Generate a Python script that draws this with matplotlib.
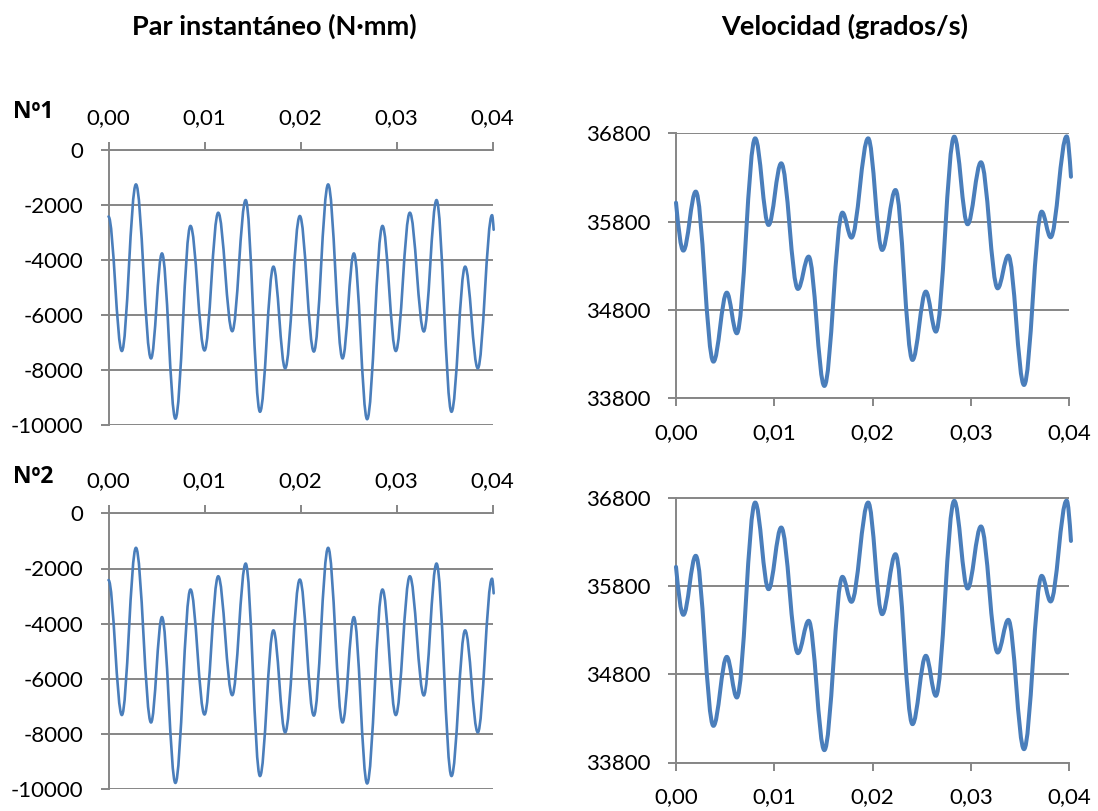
import matplotlib
matplotlib.use("Agg")
import matplotlib.pyplot as plt
from matplotlib.path import Path
from matplotlib.patches import PathPatch
from matplotlib.ticker import FixedLocator, FuncFormatter

plt.rcParams['font.family'] = ['Lato', 'DejaVu Sans']
plt.rcParams['axes.unicode_minus'] = False

# ---------------- data ----------------
titles = ["Par instantáneo (N·mm)", "Velocidad (grados/s)"]
row_labels = ["Nº1", "Nº2"]

time_ticks = [0.00, 0.01, 0.02, 0.03, 0.04]
torque_ticks = [0, -2000, -4000, -6000, -8000, -10000]
speed_ticks = [33800, 34800, 35800, 36800]

# torque: successive extrema (s, N·mm); last point is where the trace ends
torque_t = [0.0000, 0.00139, 0.00286, 0.00443, 0.00557, 0.00697, 0.00854,
            0.01000, 0.01143, 0.01289, 0.01429, 0.01578, 0.01718, 0.01840,
            0.01993, 0.02139, 0.02288, 0.02438, 0.02556, 0.02694, 0.02854,
            0.02993, 0.03139, 0.03285, 0.03417, 0.03573, 0.03715, 0.03847,
            0.03995, 0.04012]
torque_v = [-2420, -7310, -1250, -7580, -3760, -9770, -2760,
            -7290, -2280, -6590, -1820, -9520, -4240, -7940,
            -2400, -7330, -1250, -7580, -3760, -9790, -2760,
            -7310, -2280, -6600, -1820, -9520, -4240, -7940,
            -2370, -2900]

# speed: first/last points are where the trace starts/ends, others extrema
speed_t = [0.0000, 0.00075, 0.00201, 0.00381, 0.00517, 0.00619, 0.00806,
           0.00942, 0.01071, 0.01241, 0.01350, 0.01510, 0.01694, 0.01786,
           0.01956, 0.02098, 0.02234, 0.02407, 0.02543, 0.02645, 0.02832,
           0.02968, 0.03104, 0.03274, 0.03382, 0.03542, 0.03722, 0.03813,
           0.03976, 0.04020]
speed_v = [36015, 35472, 36140, 34215, 34996, 34536, 36743,
           35762, 36460, 35038, 35404, 33940, 35902, 35619,
           36743, 35479, 36158, 34234, 35008, 34555, 36762,
           35770, 36472, 35045, 35415, 33951, 35913, 35623,
           36765, 36308]

# ---------------- styling ----------------
LINE = "#4A7EBB"
GRID = "#868686"
K = 0.364


def smooth_path(t, v, steep_start, steep_end):
    verts = [(t[0], v[0])]
    codes = [Path.MOVETO]
    n = len(t)
    for i in range(n - 1):
        t0, v0, t1, v1 = t[i], v[i], t[i + 1], v[i + 1]
        dt = t1 - t0
        if i == 0 and steep_start:
            c1 = (t0 + dt / 3, v0 + (v1 - v0) * 0.52)
        else:
            c1 = (t0 + K * dt, v0)
        if i == n - 2 and steep_end:
            c2 = (t1 - dt / 3, v1 - (v1 - v0) * 0.52)
        else:
            c2 = (t1 - K * dt, v1)
        verts += [c1, c2, (t1, v1)]
        codes += [Path.CURVE4] * 3
    return Path(verts, codes)


def fmt_time(x, pos):
    return f"{x:.2f}".replace(".", ",")


def fmt_int(x, pos):
    return f"{int(round(x))}"


W, H = 1098, 811
fig = plt.figure(figsize=(W / 100, H / 100), dpi=100)


def box(left, top, right, bottom):
    return [left / W, 1 - bottom / H, (right - left) / W, (bottom - top) / H]


TICK_FS = 16


def style_common(ax):
    ax.xaxis.set_major_locator(FixedLocator(time_ticks))
    ax.xaxis.set_major_formatter(FuncFormatter(fmt_time))
    ax.yaxis.set_major_formatter(FuncFormatter(fmt_int))
    ax.tick_params(axis="y", direction="out", length=6, width=1.4, color=GRID,
                   labelsize=TICK_FS, pad=12)
    ax.yaxis.grid(True, color=GRID, linewidth=1.4)
    ax.set_axisbelow(True)


def torque_axes(rect):
    ax = fig.add_axes(rect)
    ax.set_xlim(0, 0.04)
    ax.set_ylim(-10000, 0)
    for s in ["bottom", "right"]:
        ax.spines[s].set_visible(False)
    for s in ["top", "left"]:
        ax.spines[s].set_color(GRID)
        ax.spines[s].set_linewidth(1.4)
    ax.xaxis.tick_top()
    style_common(ax)
    ax.yaxis.set_major_locator(FixedLocator(torque_ticks))
    ax.tick_params(axis="x", direction="out", length=6, width=1.4, color=GRID,
                   labelsize=TICK_FS, pad=10)
    p = PathPatch(smooth_path(torque_t, torque_v, False, True), facecolor="none",
                  edgecolor=LINE, linewidth=1.9, capstyle="round",
                  joinstyle="round", clip_on=False, zorder=3)
    ax.add_patch(p)
    return ax


def speed_axes(rect):
    ax = fig.add_axes(rect)
    ax.set_xlim(0, 0.04)
    ax.set_ylim(33800, 36800)
    for s in ["top", "right"]:
        ax.spines[s].set_visible(False)
    for s in ["bottom", "left"]:
        ax.spines[s].set_color(GRID)
        ax.spines[s].set_linewidth(1.4)
    style_common(ax)
    ax.yaxis.set_major_locator(FixedLocator(speed_ticks))
    ax.tick_params(axis="x", direction="out", length=6, width=1.4, color=GRID,
                   labelsize=TICK_FS, pad=12)
    p = PathPatch(smooth_path(speed_t, speed_v, True, True), facecolor="none",
                  edgecolor=LINE, linewidth=2.9, capstyle="round",
                  joinstyle="round", clip_on=False, zorder=3)
    ax.add_patch(p)
    return ax


torque_axes(box(108.5, 150, 492.5, 425))
torque_axes(box(108.5, 513.3, 492.5, 789.3))
speed_axes(box(676, 133.3, 1069, 398.3))
speed_axes(box(676, 497.5, 1069, 762.5))

fig.text(274 / W, 1 - 26 / H, titles[0], ha="center", va="center",
         fontsize=19.5, fontweight="bold")
fig.text(845 / W, 1 - 26 / H, titles[1], ha="center", va="center",
         fontsize=19.5, fontweight="bold")
fig.text(33 / W, 1 - 112 / H, row_labels[0], ha="center", va="center",
         fontsize=16.5, fontweight="bold", family=["Open Sans", "DejaVu Sans"])
fig.text(33 / W, 1 - 477 / H, row_labels[1], ha="center", va="center",
         fontsize=16.5, fontweight="bold", family=["Open Sans", "DejaVu Sans"])

fig.savefig("out.png", dpi=100)
